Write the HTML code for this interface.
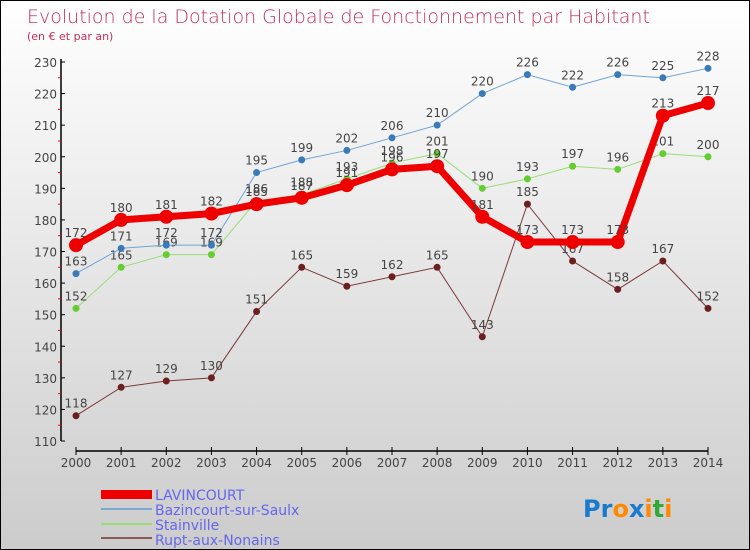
<!DOCTYPE html>
<html><head><meta charset="utf-8"><style>
body{margin:0}
#c{position:relative;width:748px;height:548px;border:1px solid #000;background:linear-gradient(#fff,#ccc);font-family:"DejaVu Sans","Liberation Sans",sans-serif;overflow:hidden}
</style></head><body>
<div id="c">
<svg id="s" width="748" height="548" style="position:absolute;left:0;top:0">
<text x="26" y="22" font-size="19" fill="#c0305a" font-family="DejaVu Sans, sans-serif" font-weight="200">Evolution de la Dotation Globale de Fonctionnement par Habitant</text>
<text x="26" y="39" font-size="11" fill="#c0305a">(en € et par an)</text>
<g id="g"></g>
<g>
<rect x="100" y="489" width="51" height="9" fill="#e00"/>
<text x="154" y="499" font-size="14" fill="#6666ee">LAVINCOURT</text>
<rect x="100" y="507" width="51" height="2" fill="#7aa7d0"/>
<text x="154" y="514" font-size="14" fill="#6666ee">Bazincourt-sur-Saulx</text>
<rect x="100" y="522" width="51" height="2" fill="#99dd77"/>
<text x="154" y="529" font-size="14" fill="#6666ee">Stainville</text>
<rect x="100" y="536" width="51" height="2" fill="#8b5a5a"/>
<text x="154" y="544" font-size="14" fill="#6666ee">Rupt-aux-Nonains</text>
</g>
<text x="582" y="516" font-size="24" font-weight="bold"><tspan fill="#1a7acc">Pr</tspan><tspan fill="#ff8800">o</tspan><tspan fill="#1a7acc">x</tspan><tspan fill="#ff8800">i</tspan><tspan fill="#33aa33">t</tspan><tspan fill="#ff8800">i</tspan></text>
</svg>
</div>
<script>
const years=["2000","2001","2002","2003","2004","2005","2006","2007","2008","2009","2010","2011","2012","2013","2014"];
const yTicks=[110,120,130,140,150,160,170,180,190,200,210,220,230];
const lavincourt=[172,180,181,182,185,187,191,196,197,181,173,173,173,213,217];
const bazincourt=[163,171,172,172,195,199,202,206,210,220,226,222,226,225,228];
const stainville=[152,165,169,169,186,188,193,198,201,190,193,197,196,201,200];
const rupt=[118,127,129,130,151,165,159,162,165,143,185,167,158,167,152];
const NS="http://www.w3.org/2000/svg";
const g=document.getElementById('g');
const X=i=>75+i*(632/14);
const Y=v=>440-(v-110)*(379/120);
function el(t,a,p){const e=document.createElementNS(NS,t);for(const k in a)e.setAttribute(k,a[k]);(p||g).appendChild(e);return e;}
// axes
const ya=el('line',{x1:60,y1:58,x2:60,y2:440,stroke:'#000','stroke-width':1.5});


const xa=el('line',{x1:75,y1:450,x2:707,y2:450,stroke:'#000','stroke-width':1.5});


yTicks.forEach(v=>{
 el('line',{x1:60,y1:Y(v),x2:64,y2:Y(v),stroke:'#000'});
 if(v<230)el('line',{x1:57,y1:Y(v+5),x2:60,y2:Y(v+5),stroke:'#f00'});
 const t=el('text',{x:56,y:Y(v)+5,'font-size':12,'text-anchor':'end',fill:'#444'});t.textContent=v;
 
 
});
years.forEach((y,i)=>{
 el('line',{x1:X(i),y1:446,x2:X(i),y2:454,stroke:'#000'});
 const t=el('text',{x:X(i),y:466,'font-size':12,'text-anchor':'middle',fill:'#444'});t.textContent=y;
 
 
});
function series(d,color,w,r,mcolor,name){
 const p=el('polyline',{points:d.map((v,i)=>X(i)+','+Y(v)).join(' '),fill:'none',stroke:color,'stroke-width':w});
 
 
 d.forEach((v,i)=>{
  const c=el('circle',{cx:X(i),cy:Y(v),r:r,fill:mcolor});
  
  
  const t=el('text',{x:X(i),y:Y(v)-8,'font-size':12,'text-anchor':'middle',fill:'#444'});t.textContent=v;
  
  
 });
}
series(rupt,'#7a3a3a',1,3.5,'#6b1f1f','rupt');
series(stainville,'#99dd77',1,3.5,'#66cc33','stainville');
series(bazincourt,'#6fa3d6',1,3.5,'#3a7ab8','bazincourt');
series(lavincourt,'#ee0000',7,7,'#ee0000','lavincourt');
</script>
</body></html>
